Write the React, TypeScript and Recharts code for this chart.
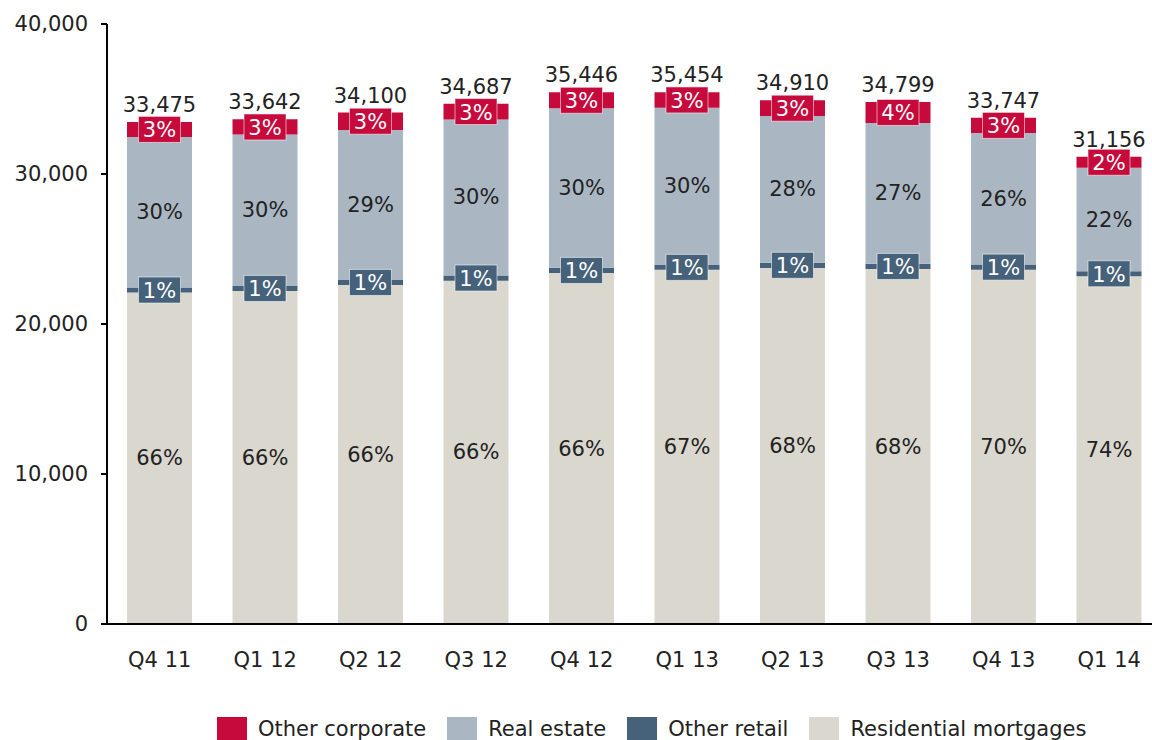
import { BarChart, Bar, XAxis, YAxis, LabelList, Legend } from "recharts";

const quarters = ["Q4 11", "Q1 12", "Q2 12", "Q3 12", "Q4 12", "Q1 13", "Q2 13", "Q3 13", "Q4 13", "Q1 14"];
const totals = [33475, 33642, 34100, 34687, 35446, 35454, 34910, 34799, 33747, 31156];

// absolute segment sizes
const residential = [22100, 22200, 22600, 22890, 23395, 23610, 23740, 23663, 23623, 23180];
const otherRetail = [330, 340, 340, 350, 354, 330, 349, 348, 338, 340];
const realEstate = [10040, 10090, 10000, 10400, 10634, 10480, 9774, 9396, 8774, 6890];
const otherCorporate = [1005, 1012, 1160, 1047, 1063, 1034, 1047, 1392, 1012, 746];

// percentage labels as printed
const residentialPct = [66, 66, 66, 66, 66, 67, 68, 68, 70, 74];
const otherRetailPct = [1, 1, 1, 1, 1, 1, 1, 1, 1, 1];
const realEstatePct = [30, 30, 29, 30, 30, 30, 28, 27, 26, 22];
const otherCorporatePct = [3, 3, 3, 3, 3, 3, 3, 4, 3, 2];

const yTicks = [0, 10000, 20000, 30000, 40000];

const COLORS = {
  residential: "#DAD7CF",
  retail: "#46617A",
  realEstate: "#AAB7C2",
  corporate: "#C60B3C",
};

const legendItems = [
  { name: "Other corporate", color: COLORS.corporate },
  { name: "Real estate", color: COLORS.realEstate },
  { name: "Other retail", color: COLORS.retail },
  { name: "Residential mortgages", color: COLORS.residential },
];

const data = quarters.map((q, i) => ({
  quarter: q,
  residential: residential[i],
  otherRetail: otherRetail[i],
  realEstate: realEstate[i],
  otherCorporate: otherCorporate[i],
  total: totals[i],
  residentialPct: residentialPct[i],
  otherRetailPct: otherRetailPct[i],
  realEstatePct: realEstatePct[i],
  otherCorporatePct: otherCorporatePct[i],
}));

const FONT = "'DejaVu Sans', Verdana, sans-serif";
const TEXT = "#222222";

const PlainPct = (props: any) => {
  const { x, y, width, height, value } = props;
  return (
    <text
      x={x + width / 2}
      y={y + height / 2}
      textAnchor="middle"
      dominantBaseline="central"
      fontSize={21}
      fontFamily={FONT}
      fill={TEXT}
    >
      {value}%
    </text>
  );
};

const boxedPct = (bg: string) => (props: any) => {
  const { x, y, width, height, value } = props;
  const cx = x + width / 2;
  const cy = y + height / 2;
  return (
    <g>
      <rect
        x={cx - 21}
        y={cy - 13}
        width={42}
        height={26}
        fill={bg}
        stroke="rgba(255,255,255,0.55)"
        strokeWidth={1}
      />
      <text
        x={cx}
        y={cy + 1}
        textAnchor="middle"
        dominantBaseline="central"
        fontSize={21}
        fontFamily={FONT}
        fill="#FFFFFF"
      >
        {value}%
      </text>
    </g>
  );
};

const TotalLabel = (props: any) => {
  const { x, y, width, value } = props;
  return (
    <text
      x={x + width / 2}
      y={y - 10}
      textAnchor="middle"
      fontSize={21}
      fontFamily={FONT}
      fill={TEXT}
    >
      {Number(value).toLocaleString("en-US")}
    </text>
  );
};

const renderLegend = () => (
  <div style={{ display: "flex", alignItems: "flex-start", paddingLeft: 217, fontFamily: FONT, fontSize: 21, lineHeight: "21px", color: TEXT }}>
    {legendItems.map((it) => (
      <div key={it.name} style={{ display: "flex", alignItems: "flex-start", marginRight: 21 }}>
        <span style={{ display: "inline-block", width: 30, height: 30, marginTop: 2, background: it.color, marginRight: 11 }} />
        <span style={{ marginTop: 4, whiteSpace: "nowrap" }}>{it.name}</span>
      </div>
    ))}
  </div>
);

export default function App() {
  return (
    <div style={{ position: "absolute", left: 0, top: 0, width: 1152, height: 740, overflow: "hidden", background: "#fff" }}>
      <BarChart
        width={1162}
        height={740}
        data={data}
        barSize={65}
        margin={{ top: 24, right: 0, left: 0, bottom: 56 }}
      >
        <XAxis
          dataKey="quarter"
          tickLine={false}
          axisLine={{ stroke: "#000", strokeWidth: 2 }}
          tick={{ fill: TEXT, fontSize: 21, fontFamily: FONT }}
          tickMargin={22}
          height={60}
          interval={0}
        />
        <YAxis
          domain={[0, 40000]}
          ticks={yTicks}
          width={107}
          tickSize={6}
          tickMargin={13}
          tickLine={{ stroke: "#000", strokeWidth: 2 }}
          axisLine={{ stroke: "#000", strokeWidth: 2 }}
          tick={{ fill: TEXT, fontSize: 21, fontFamily: FONT }}
          tickFormatter={(v: number) => v.toLocaleString("en-US")}
        />
        <Legend
          layout="horizontal"
          verticalAlign="middle"
          align="center"
          wrapperStyle={{ top: 715, left: 0, width: 1162 }}
          content={renderLegend}
        />
        <Bar dataKey="residential" stackId="a" fill={COLORS.residential} isAnimationActive={false}>
          <LabelList dataKey="residentialPct" content={PlainPct} />
        </Bar>
        <Bar dataKey="otherRetail" stackId="a" fill={COLORS.retail} isAnimationActive={false}>
          <LabelList dataKey="otherRetailPct" content={boxedPct(COLORS.retail)} />
        </Bar>
        <Bar dataKey="realEstate" stackId="a" fill={COLORS.realEstate} isAnimationActive={false}>
          <LabelList dataKey="realEstatePct" content={PlainPct} />
        </Bar>
        <Bar dataKey="otherCorporate" stackId="a" fill={COLORS.corporate} isAnimationActive={false}>
          <LabelList dataKey="otherCorporatePct" content={boxedPct(COLORS.corporate)} />
          <LabelList dataKey="total" content={TotalLabel} />
        </Bar>
      </BarChart>
    </div>
  );
}
